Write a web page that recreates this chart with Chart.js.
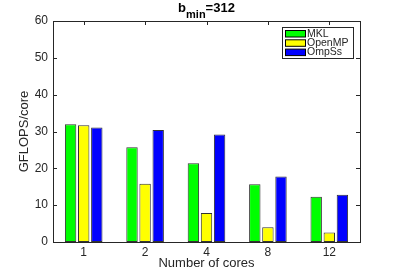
<!DOCTYPE html>
<html lang="en">
<head>
<meta charset="utf-8"/>
<title>b_min=312</title>
<script src="https://cdn.jsdelivr.net/npm/chart.js"></script>
<style>
    html, body { margin: 0; padding: 0; background: #ffffff; }
    .wrap { position: relative; width: 399px; height: 273px; }
</style>
</head>
<body>
<div class="wrap"><canvas id="chart"></canvas></div>
<script>
    // data
    const cores = ['1', '2', '4', '8', '12'];
    const mkl = [32.0, 25.7, 21.4, 15.7, 12.3];
    const openmp = [31.7, 15.8, 7.9, 4.0, 2.6];
    const ompss = [31.1, 30.4, 29.2, 17.8, 12.8];
    const yTicks = [0, 10, 20, 30, 40, 50, 60];

    const FONT = '"Liberation Sans", Arial, sans-serif';
    const INK = '#262626';

    // box, inward ticks, title, legend, y label
    const matlabLook = {
        id: 'matlabLook',
        beforeDatasetsDraw(chart) {
            const ctx = chart.ctx;
            const a = chart.chartArea;
            const xs = chart.scales.x, ys = chart.scales.y;
            ctx.save();
            ctx.strokeStyle = INK;
            ctx.lineWidth = 1;
            ctx.beginPath();
            yTicks.forEach(v => {
                const y = Math.round(ys.getPixelForValue(v)) + 0.5;
                ctx.moveTo(a.left, y); ctx.lineTo(a.left + 4, y);
                ctx.moveTo(a.right, y); ctx.lineTo(a.right - 4, y);
            });
            cores.forEach((c, i) => {
                const x = Math.round(xs.getPixelForValue(i)) + 0.5;
                ctx.moveTo(x, a.bottom); ctx.lineTo(x, a.bottom - 4);
                ctx.moveTo(x, a.top); ctx.lineTo(x, a.top + 4);
            });
            ctx.stroke();
            ctx.restore();
        },
        afterDraw(chart) {
            const ctx = chart.ctx;
            const a = chart.chartArea;
            ctx.save();
            ctx.strokeStyle = INK;
            ctx.lineWidth = 1;
            ctx.strokeRect(Math.round(a.left) + 0.5, Math.round(a.top) + 0.5,
                Math.round(a.right - a.left), Math.round(a.bottom - a.top));

            // title with subscript
            ctx.fillStyle = '#000';
            ctx.textBaseline = 'alphabetic';
            ctx.font = 'bold 13px ' + FONT;
            const cx = (a.left + a.right) / 2;
            const w1 = ctx.measureText('b').width;
            ctx.font = 'bold 11px ' + FONT;
            const w2 = ctx.measureText('min').width;
            ctx.font = 'bold 13px ' + FONT;
            const w3 = ctx.measureText('=312').width;
            let x0 = cx - (w1 + w2 + w3) / 2;
            ctx.textAlign = 'left';
            ctx.fillText('b', x0, 12);
            ctx.font = 'bold 11px ' + FONT;
            ctx.fillText('min', x0 + w1, 18);
            ctx.font = 'bold 13px ' + FONT;
            ctx.fillText('=312', x0 + w1 + w2, 12);

            // legend
            const lx = 282, ly = 27, lw = 71, lh = 31;
            ctx.fillStyle = '#fff';
            ctx.fillRect(lx, ly, lw, lh);
            ctx.strokeStyle = INK;
            ctx.strokeRect(lx + 0.5, ly + 0.5, lw, lh);
            const items = [['MKL', '#00ff00'], ['OpenMP', '#ffff00'], ['OmpSs', '#0000ff']];
            ctx.font = '10.5px ' + FONT;
            ctx.textBaseline = 'middle';
            items.forEach((it, i) => {
                const yy = ly + 3 + i * 9.3;
                ctx.fillStyle = it[1];
                ctx.fillRect(lx + 3.5, yy + 0.5, 20, 6.5);
                ctx.strokeStyle = '#000';
                ctx.strokeRect(lx + 3.5, yy + 0.5, 20, 6.5);
                ctx.fillStyle = INK;
                ctx.fillText(it[0], lx + 25, yy + 4);
            });

            // y axis label
            ctx.translate(24, (a.top + a.bottom) / 2);
            ctx.rotate(-Math.PI / 2);
            ctx.textAlign = 'center';
            ctx.textBaseline = 'middle';
            ctx.font = '13px ' + FONT;
            ctx.fillStyle = INK;
            ctx.fillText('GFLOPS/core', 0, 0);
            ctx.restore();
        }
    };

    const bar = (label, data, color) => ({
        label: label,
        data: data,
        backgroundColor: color,
        borderColor: '#333333',
        borderWidth: 1,
        borderSkipped: false,
        barPercentage: 0.87,
        categoryPercentage: 0.64
    });

    new Chart(document.getElementById('chart'), {
        type: 'bar',
        data: {
            labels: cores,
            datasets: [
                bar('MKL', mkl, '#00ff00'),
                bar('OpenMP', openmp, '#ffff00'),
                bar('OmpSs', ompss, '#0000ff')
            ]
        },
        options: {
            responsive: true,
            maintainAspectRatio: false,
            animation: false,
            layout: { padding: { left: 0, top: 21, right: 39, bottom: 0 } },
            plugins: {
                legend: { display: false },
                tooltip: { enabled: false },
                title: { display: false }
            },
            scales: {
                x: {
                    grid: { display: false, drawTicks: false },
                    border: { display: false },
                    ticks: { color: INK, font: { family: FONT, size: 12 }, padding: 3 },
                    title: {
                        display: true, text: 'Number of cores', color: INK,
                        font: { family: FONT, size: 13 }, padding: { top: 0, bottom: 2 }
                    },
                    afterFit(s) { s.height = 31; }
                },
                y: {
                    min: 0,
                    max: 60,
                    grid: { display: false, drawTicks: false },
                    border: { display: false },
                    ticks: {
                        stepSize: 10, color: INK, padding: 5,
                        font: { family: FONT, size: 12 }
                    },
                    afterFit(s) { s.width = 53; }
                }
            }
        },
        plugins: [matlabLook]
    });
</script>
</body>
</html>
